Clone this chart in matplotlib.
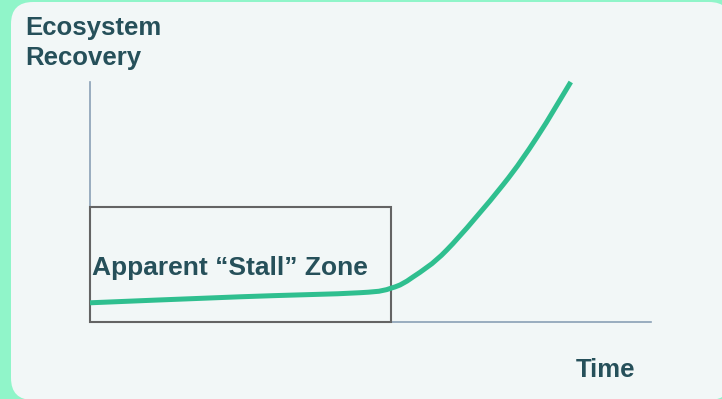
import matplotlib
matplotlib.use("Agg")
import matplotlib.pyplot as plt
import numpy as np
from matplotlib.patches import FancyBboxPatch, Rectangle, PathPatch
from matplotlib.path import Path

# Recovery trajectory: slow "stall" phase, then accelerating recovery
time_vals = [0.00, 2.67, 4.81, 5.38, 5.76, 6.36, 7.36, 7.97, 8.57]
recovery_vals = [0.80, 1.05, 1.22, 1.42, 1.88, 3.00, 5.71, 7.71, 10.00]

# Extent of the highlighted stall zone
stall_time = [0.0, 5.37]
stall_recovery = [0.0, 4.79]

x_label = "Time"
y_label = "Ecosystem\nRecovery"
zone_label = "Apparent \u201cStall\u201d Zone"

TEXT = "#26505a"
LINE = "#2fbf8f"
AXIS = "#8aa0b6"
BOX = "#646464"
PANEL = "#f2f7f7"
BG = "#90f5c9"

plt.rcParams["font.family"] = ["Liberation Sans", "DejaVu Sans"]


def smooth_path(xs, ys):
    """Catmull-Rom curve through the points, expressed as cubic Bezier segments."""
    pts = np.column_stack([xs, ys]).astype(float)
    ext = np.vstack([pts[0], pts, pts[-1]])
    verts = [pts[0]]
    codes = [Path.MOVETO]
    for i in range(1, len(ext) - 2):
        p0, p1, p2, p3 = ext[i - 1], ext[i], ext[i + 1], ext[i + 2]
        verts += [p1 + (p2 - p0) / 6, p2 - (p3 - p1) / 6, p2]
        codes += [Path.CURVE4] * 3
    return Path(verts, codes)


W, H = 722, 399
fig = plt.figure(figsize=(W / 100, H / 100), dpi=100, facecolor=BG)

# Backdrop panel in pixel units
bg = fig.add_axes([0, 0, 1, 1])
bg.set_xlim(0, W)
bg.set_ylim(H, 0)
bg.axis("off")
bg.add_patch(FancyBboxPatch((11, 2), 720, 398,
                            boxstyle="round,pad=0,rounding_size=22",
                            facecolor=PANEL, edgecolor="none"))
bg.text(25, 16, y_label, fontsize=18.5, fontweight="bold", color=TEXT,
        ha="left", va="top", linespacing=1.3)
bg.text(576, 377, x_label, fontsize=18.5, fontweight="bold", color=TEXT,
        ha="left", va="baseline")

# Main plot
ax = fig.add_axes([90 / W, 77 / H, 561 / W, 240 / H])
ax.set_facecolor("none")
ax.set_xlim(0, 10)
ax.set_ylim(0, 10)
for side in ("top", "right"):
    ax.spines[side].set_visible(False)
for side in ("left", "bottom"):
    ax.spines[side].set_color(AXIS)
    ax.spines[side].set_linewidth(1.2)
ax.set_xticks([])
ax.set_yticks([])

ax.add_patch(Rectangle((stall_time[0], stall_recovery[0]),
                       stall_time[1] - stall_time[0],
                       stall_recovery[1] - stall_recovery[0],
                       facecolor="none", edgecolor=BOX, linewidth=1.5,
                       clip_on=False, zorder=3))
ax.add_patch(PathPatch(smooth_path(time_vals, recovery_vals), facecolor="none",
                       edgecolor=LINE, linewidth=3.6, capstyle="butt",
                       joinstyle="round", zorder=4, clip_on=False))
ax.text(0.04, 1.96, zone_label, fontsize=19, fontweight="bold", color=TEXT,
        ha="left", va="baseline", zorder=5)

fig.savefig("out.png", dpi=100, facecolor=BG)
